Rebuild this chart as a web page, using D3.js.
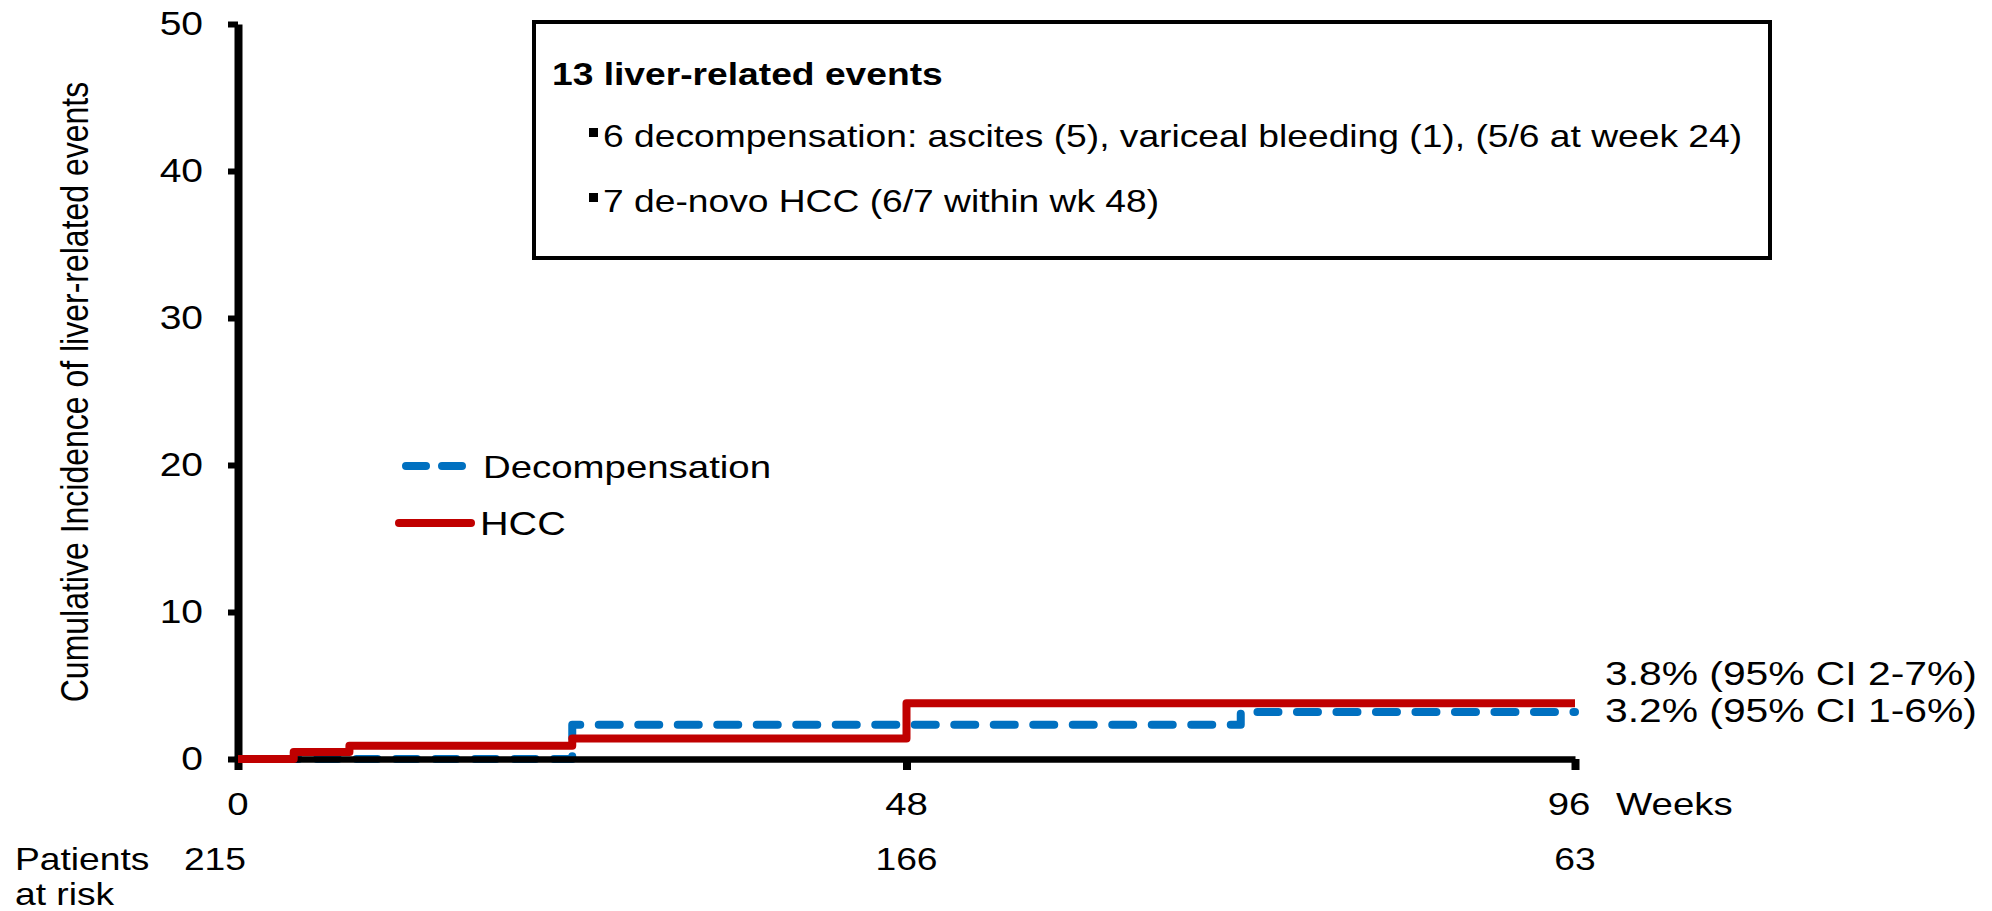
<!DOCTYPE html>
<html>
<head>
<meta charset="utf-8">
<script src="https://cdn.jsdelivr.net/npm/d3@7"></script>
<style>
  html, body { margin: 0; padding: 0; background: #fff; }
  svg { display: block; }
  text { font-family: "Liberation Sans", Arial, Helvetica, sans-serif; fill: #000; }
</style>
</head>
<body>
<svg id="chart" width="1992" height="911"></svg>
<script>
// ---- data ----
const weekTicks = [0, 48, 96];
const pctTicks = [0, 10, 20, 30, 40, 50];
const patientsAtRisk = [215, 166, 63];

// Cumulative incidence (%) step functions, value holds from each week onward
const hccWeeks = [0, 4, 8, 24, 48, 96];
const hccPct = [0, 0.47, 0.9, 1.4, 3.8, 3.8];
const decompWeeks = [0, 24, 72, 96];
const decompPct = [0, 2.33, 3.2, 3.2];

const seriesNames = ["Decompensation", "HCC"];
const hccCI = [2, 7];
const decompCI = [1, 6];

const boxTitle = "13 liver-related events";
const boxItems = [
  "6 decompensation: ascites (5), variceal bleeding (1), (5/6 at week 24)",
  "7 de-novo HCC (6/7 within wk 48)"
];
const yTitle = "Cumulative Incidence of liver-related events";
const xUnit = "Weeks";
const riskLabel = ["Patients", "at risk"];

// ---- drawing ----
const RED = "#C00000", BLUE = "#0070C0";
const SX = 1.2; // horizontal text stretch
const svg = d3.select("#chart");

const x = d3.scaleLinear().domain([0, 96]).range([238, 1575]);
const y = d3.scaleLinear().domain([0, 50]).range([759, 24]);

function place(sel, px, py) {
  return sel.attr("transform", `translate(${px},${py}) scale(${SX},1)`);
}

const stepLine = d3.line()
  .x(d => x(d[0]))
  .y(d => y(d[1]))
  .curve(d3.curveStepAfter);

const decompData = d3.zip(decompWeeks, decompPct);
const hccData = d3.zip(hccWeeks, hccPct);

// decompensation curve (dashed) beneath the axes
svg.append("path")
  .datum(decompData)
  .attr("d", stepLine)
  .attr("fill", "none")
  .attr("stroke", BLUE)
  .attr("stroke-width", 8)
  .attr("stroke-linecap", "round")
  .attr("stroke-linejoin", "round")
  .attr("stroke-dasharray", "21 18.5");

// y axis
const yAxis = svg.append("g")
  .attr("transform", `translate(${x(0)},0)`)
  .call(d3.axisLeft(y).tickValues(pctTicks).tickSize(10).tickSizeOuter(0).tickFormat(""));
yAxis.select(".domain").attr("stroke", "#000").attr("stroke-width", 8);
yAxis.selectAll(".tick line").attr("stroke", "#000").attr("stroke-width", 6);
yAxis.selectAll(".tick text").remove();

svg.append("g").selectAll("text")
  .data(pctTicks)
  .join("text")
  .attr("font-size", 32.5)
  .attr("text-anchor", "end")
  .attr("dominant-baseline", "central")
  .each(function(d) { place(d3.select(this), 203, y(d)); })
  .text(d => d);

// x axis
const xAxis = svg.append("g")
  .attr("transform", `translate(0,${y(0)})`)
  .call(d3.axisBottom(x).tickValues(weekTicks).tickSize(11).tickSizeOuter(0).tickFormat(""));
xAxis.select(".domain").attr("stroke", "#000").attr("stroke-width", 6.5);
xAxis.selectAll(".tick line").attr("stroke", "#000").attr("stroke-width", 8);
xAxis.selectAll(".tick text").remove();

svg.append("g").selectAll("text")
  .data(weekTicks)
  .join("text")
  .attr("font-size", 32)
  .attr("text-anchor", "middle")
  .each(function(d, i) { place(d3.select(this), x(d) - (i === weekTicks.length - 1 ? 6 : 0), 815); })
  .text(d => d);

place(svg.append("text"), 1616, 815)
  .attr("font-size", 32)
  .text(xUnit);

// HCC curve (solid) above the axes
svg.append("path")
  .datum(hccData)
  .attr("d", stepLine)
  .attr("fill", "none")
  .attr("stroke", RED)
  .attr("stroke-width", 8)
  .attr("stroke-linejoin", "round");

// end-of-curve estimates
const hccEnd = hccPct[hccPct.length - 1];
const decompEnd = decompPct[decompPct.length - 1];
place(svg.append("text"), 1605, 685)
  .attr("font-size", 34)
  .text(`${hccEnd.toFixed(1)}% (95% CI ${hccCI[0]}-${hccCI[1]}%)`);
place(svg.append("text"), 1605, 722)
  .attr("font-size", 34)
  .text(`${decompEnd.toFixed(1)}% (95% CI ${decompCI[0]}-${decompCI[1]}%)`);

// y title
svg.append("text")
  .attr("transform", `translate(88,392) scale(${SX},1) rotate(-90)`)
  .attr("font-size", 32)
  .attr("text-anchor", "middle")
  .text(yTitle);

// patients at risk
place(svg.append("text"), 15, 870).attr("font-size", 31).text(riskLabel[0]);
place(svg.append("text"), 15, 905).attr("font-size", 31).text(riskLabel[1]);
svg.append("g").selectAll("text")
  .data(patientsAtRisk)
  .join("text")
  .attr("font-size", 31)
  .attr("text-anchor", (d, i) => i === 0 ? "end" : "middle")
  .each(function(d, i) { place(d3.select(this), i === 0 ? x(weekTicks[i]) + 8 : x(weekTicks[i]), 870); })
  .text(d => d);

// legend
const legend = svg.append("g");
legend.append("line")
  .attr("x1", 406).attr("x2", 462).attr("y1", 466).attr("y2", 466)
  .attr("stroke", BLUE).attr("stroke-width", 8)
  .attr("stroke-linecap", "round").attr("stroke-dasharray", "20 16");
place(legend.append("text"), 483, 478).attr("font-size", 32).text(seriesNames[0]);
legend.append("line")
  .attr("x1", 399).attr("x2", 471).attr("y1", 523).attr("y2", 523)
  .attr("stroke", RED).attr("stroke-width", 8)
  .attr("stroke-linecap", "round");
place(legend.append("text"), 480, 535).attr("font-size", 33).text(seriesNames[1]);

// annotation box
const box = svg.append("g");
box.append("rect")
  .attr("x", 534).attr("y", 22).attr("width", 1236).attr("height", 236)
  .attr("fill", "#fff").attr("stroke", "#000").attr("stroke-width", 4);
place(box.append("text"), 552, 85)
  .attr("font-size", 31).attr("font-weight", "bold")
  .text(boxTitle);
boxItems.forEach((t, i) => {
  const base = 147 + i * 65;
  box.append("rect")
    .attr("x", 589).attr("y", base - 19).attr("width", 9).attr("height", 9)
    .attr("fill", "#000");
  place(box.append("text"), 603, base).attr("font-size", 31).text(t);
});
</script>
</body>
</html>
